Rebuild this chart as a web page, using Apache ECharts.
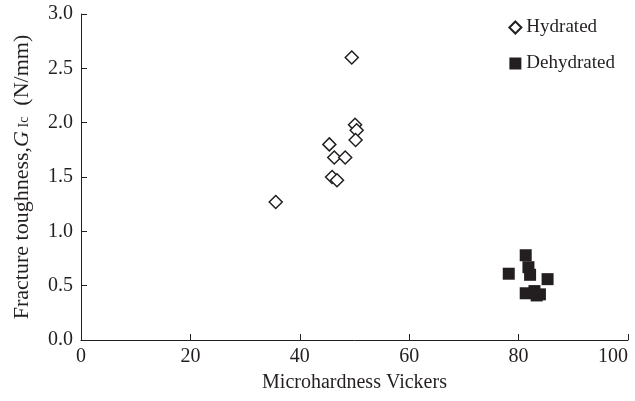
<!DOCTYPE html>
<html>
<head>
<meta charset="utf-8">
<script src="https://cdn.jsdelivr.net/npm/echarts@6/dist/echarts.min.js"></script>
<style>
html,body{margin:0;padding:0;background:#fff;}
#chartmain{width:635px;height:401px;}
</style>
</head>
<body>
<div id="chartmain"></div>
<script>
// hydrated samples [hardness, G1c]
var hydrated=[
	[35.6,1.27],[49.5,2.60],[50.1,1.98],[50.4,1.93],[50.2,1.84],
	[45.4,1.80],[46.3,1.68],[48.3,1.68],[45.9,1.50],[46.8,1.47]
];
// dehydrated samples
var dehydrated=[
	[81.3,0.78],[81.8,0.67],[82.1,0.60],[78.2,0.61],[85.3,0.56],
	[81.3,0.43],[82.9,0.45],[83.9,0.42],[83.3,0.41]
];
var xTicks=[0,20,40,60,80,100];
var yTicks=[0.0,0.5,1.0,1.5,2.0,2.5,3.0];

var font='"Liberation Serif","DejaVu Serif",serif';
var ink='#231f20';
var myChart=echarts.init(document.getElementById("chartmain"));
var option={
	animation:false,
	textStyle:{fontFamily:font,color:ink},
	grid:{left:81,right:7,top:14,bottom:61,containLabel:false,outerBoundsMode:'none'},
	legend:{
		orient:'vertical',
		right:15,top:13,
		itemGap:17,
		itemWidth:12,itemHeight:12,
		textStyle:{fontFamily:font,fontSize:19,color:ink},
		data:['Hydrated','Dehydrated']
	},
	xAxis:{
		type:'value',
		min:xTicks[0],max:xTicks[xTicks.length-1],interval:20,
		name:'Microhardness Vickers',
		nameLocation:'middle',nameGap:33,
		nameTextStyle:{fontFamily:font,fontSize:20,color:ink},
		axisLine:{lineStyle:{color:ink,width:1}},
		axisTick:{inside:true,length:6,lineStyle:{color:ink}},
		axisLabel:{fontFamily:font,fontSize:20,color:ink,margin:7,alignMaxLabel:'right'},
		splitLine:{show:false}
	},
	yAxis:{
		type:'value',
		min:yTicks[0],max:yTicks[yTicks.length-1],interval:0.5,
		name:'Fracture toughness,{i|G}{s| Ic}  (N/mm)',
		nameLocation:'middle',nameGap:48,
		nameTextStyle:{
			fontFamily:font,fontSize:22,color:ink,
			rich:{
				i:{fontFamily:font,fontSize:22,fontStyle:'italic',color:ink},
				s:{fontFamily:font,fontSize:14,color:ink,padding:[5,0,0,0]}
			}
		},
		axisLine:{show:true,lineStyle:{color:ink,width:1}},
		axisTick:{show:true,inside:true,length:6,lineStyle:{color:ink}},
		axisLabel:{fontFamily:font,fontSize:20,color:ink,margin:8,
			formatter:function(v){return v.toFixed(1);}},
		splitLine:{show:false}
	},
	series:[{
		name:'Hydrated',
		type:'scatter',
		symbol:'diamond',
		symbolSize:13,
		itemStyle:{color:'#fff',borderColor:ink,borderWidth:1.5,opacity:1},
		data:hydrated
	},{
		name:'Dehydrated',
		type:'scatter',
		symbol:'rect',
		symbolSize:12,
		itemStyle:{color:ink,opacity:1},
		data:dehydrated
	}]
};
myChart.setOption(option);
</script>
</body>
</html>
